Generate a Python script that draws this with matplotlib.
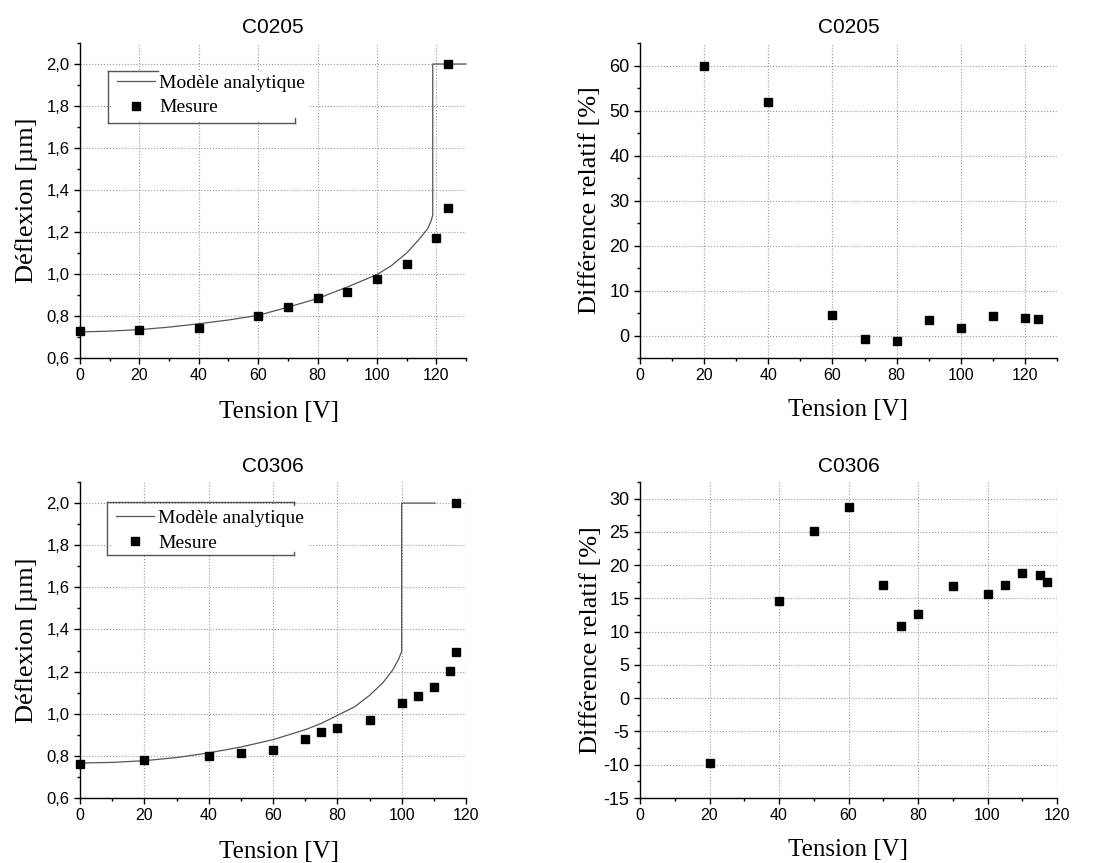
import numpy as np
import matplotlib
matplotlib.use('Agg')
import matplotlib.pyplot as plt
from matplotlib.ticker import MultipleLocator, FuncFormatter

# --- C0205 ---
modele_0205_x = [0, 10, 20, 30, 40, 50, 60, 70, 80, 90, 100, 105, 110, 113.9, 117.1, 118.3, 118.8, 118.8, 130]
modele_0205_y = [0.724, 0.728, 0.735, 0.747, 0.763, 0.781, 0.803, 0.842, 0.883, 0.938, 0.997, 1.041, 1.100, 1.160, 1.216, 1.255, 1.28, 2.0, 2.0]
mesure_0205_x = [0, 20, 40, 60, 70, 80, 90, 100, 110, 120, 124, 124]
mesure_0205_y = [0.728, 0.733, 0.745, 0.800, 0.843, 0.884, 0.912, 0.978, 1.046, 1.170, 1.313, 2.0]
diff_0205_x = [20, 40, 60, 70, 80, 90, 100, 110, 120, 124]
diff_0205_y = [59.8, 51.8, 4.6, -0.7, -1.3, 3.4, 1.7, 4.3, 4.0, 3.6]

# --- C0306 ---
modele_0306_x = [0, 10, 20, 30, 40, 50, 60, 70, 75, 80, 85.4, 90, 94.1, 97.1, 99, 100, 100, 110.4]
modele_0306_y = [0.766, 0.769, 0.777, 0.792, 0.814, 0.842, 0.877, 0.924, 0.954, 0.992, 1.033, 1.087, 1.146, 1.205, 1.257, 1.296, 2.0, 2.0]
mesure_0306_x = [0, 20, 40, 50, 60, 70, 75, 80, 90, 100, 105, 110, 115, 117, 117]
mesure_0306_y = [0.762, 0.779, 0.801, 0.814, 0.830, 0.878, 0.915, 0.934, 0.968, 1.051, 1.085, 1.126, 1.203, 1.291, 2.0]
diff_0306_x = [20, 40, 50, 60, 70, 75, 80, 90, 100, 105, 110, 115, 117]
diff_0306_y = [-9.8, 14.6, 25.2, 28.8, 17.0, 10.9, 12.7, 16.9, 15.7, 17.0, 18.8, 18.5, 17.4]

serif = ['Liberation Serif', 'DejaVu Serif']
sans = ['Liberation Sans', 'DejaVu Sans']
plt.rcParams['font.family'] = sans
plt.rcParams['axes.unicode_minus'] = False

virgule = FuncFormatter(lambda v, p: ('%.1f' % v).replace('.', ','))


def style_axe(ax, titre, ylabel, xlim, ylim, xmaj, ymaj, ysize, yfmt=None, ypad=6):
    ax.set_xlim(*xlim)
    ax.set_ylim(*ylim)
    ax.spines['top'].set_visible(False)
    ax.spines['right'].set_visible(False)
    ax.spines['left'].set_linewidth(1.0)
    ax.spines['bottom'].set_linewidth(1.0)
    ax.xaxis.set_major_locator(MultipleLocator(xmaj))
    ax.xaxis.set_minor_locator(MultipleLocator(xmaj / 2))
    ax.yaxis.set_major_locator(MultipleLocator(ymaj))
    ax.yaxis.set_minor_locator(MultipleLocator(ymaj / 2))
    if yfmt is not None:
        ax.yaxis.set_major_formatter(yfmt)
    ax.tick_params(which='major', direction='out', length=4, width=1)
    ax.tick_params(which='minor', direction='out', length=2.5, width=1)
    ax.tick_params(axis='x', labelsize=11.5)
    ax.tick_params(axis='y', labelsize=ysize)
    ax.grid(True, which='major', linestyle=':', color='#999999', linewidth=0.8)
    ax.set_axisbelow(True)
    ax.set_title(titre, fontsize=15, family=sans, pad=7)
    ax.set_xlabel('Tension [V]', fontsize=18, family=serif, labelpad=11)
    ax.set_ylabel(ylabel, fontsize=19, family=serif, labelpad=ypad)


def cadre(ax, segments):
    # cadre de légende dessiné à la main (coins ouverts comme l'original)
    for (xa, ya), (xb, yb) in segments:
        ax.plot([xa, xb], [ya, yb], color='#555555', linewidth=1.0,
                transform=ax.transAxes, clip_on=False, zorder=6)


fig = plt.figure(figsize=(11.05, 8.63), dpi=100)
W, H = 1105, 863
ax1 = fig.add_axes([80 / W, 1 - 358 / H, 386 / W, 315 / H])
ax2 = fig.add_axes([640 / W, 1 - 358 / H, 417 / W, 315 / H])
ax3 = fig.add_axes([80 / W, 1 - 798 / H, 386 / W, 316 / H])
ax4 = fig.add_axes([640 / W, 1 - 798 / H, 417 / W, 316 / H])

for ax, mx, my, sx, sy, titre, xl, ancre in [
    (ax1, modele_0205_x, modele_0205_y, mesure_0205_x, mesure_0205_y, 'C0205', (0, 130), (0.084, 0.915)),
    (ax3, modele_0306_x, modele_0306_y, mesure_0306_x, mesure_0306_y, 'C0306', (0, 120), (0.082, 0.927)),
]:
    ax.plot(mx, my, color='#555555', linewidth=0.9, label='Modèle analytique', clip_on=False)
    ax.plot(sx, sy, 's', color='black', markersize=5.3, label='Mesure', clip_on=False)
    style_axe(ax, titre, 'Déflexion [µm]', xl, (0.6, 2.1), 20, 0.2, 12, virgule)
    ax.xaxis.set_label_coords(0.515, -0.135)
    leg = ax.legend(loc='upper left', bbox_to_anchor=ancre, prop={'family': serif, 'size': 14},
                    frameon=True, fancybox=False, borderpad=0.23, handlelength=1.96,
                    handletextpad=0.2, labelspacing=0.36, borderaxespad=0)
    leg.get_frame().set_edgecolor('none')
    leg.get_frame().set_facecolor('white')
    leg.get_frame().set_alpha(1)

cadre(ax1, [((0.0725, 0.746), (0.0725, 0.911)), ((0.0725, 0.746), (0.557, 0.746)),
            ((0.0725, 0.911), (0.202, 0.911)), ((0.557, 0.746), (0.557, 0.762))])
cadre(ax3, [((0.070, 0.769), (0.070, 0.937)), ((0.070, 0.769), (0.554, 0.769)),
            ((0.070, 0.937), (0.554, 0.937)), ((0.554, 0.937), (0.554, 0.927)),
            ((0.554, 0.769), (0.554, 0.778))])

ax2.plot(diff_0205_x, diff_0205_y, 's', color='black', markersize=5.3, clip_on=False)
style_axe(ax2, 'C0205', 'Différence relatif [%]', (0, 130), (-5, 65), 20, 10, 13)

ax4.plot(diff_0306_x, diff_0306_y, 's', color='black', markersize=5.3, clip_on=False)
style_axe(ax4, 'C0306', 'Différence relatif [%]', (0, 120), (-15, 32.5), 20, 5, 13, ypad=1)

plt.savefig('out.png', dpi=100)
print("Figure enregistrée sous 'out.png'")
